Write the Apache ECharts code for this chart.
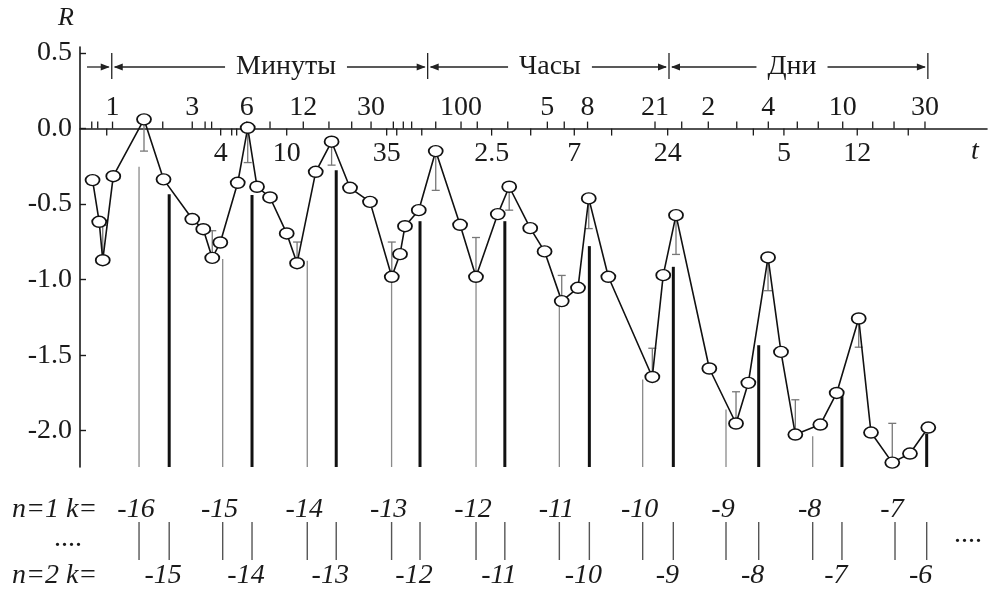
<!DOCTYPE html>
<html><head><meta charset="utf-8">
<script src="https://cdn.jsdelivr.net/npm/echarts@6/dist/echarts.min.js"></script>
<style>html,body{margin:0;padding:0;background:#fff}#c{width:991px;height:592px}</style>
</head><body><div id="c"></div>
<script>
// time t in minutes (log axis), R values
const times = [0.77,0.84,0.88,1.01,1.51,1.95,2.84,3.28,3.69,4.10,5.15,5.87,6.63,7.86,9.78,11.2,14.3,17.6,22.4,29.1,38.7,43.1,46.0,55.1,68.8,94.6,116.5,155,180,237,286,358,443,510,659,1172,1352,1598,2472,3506,4119,5331,6315,7621,10570,13100,17470,20520,27110,34180,43440];
const R = [-0.341,-0.617,-0.871,-0.315,0.061,-0.336,-0.599,-0.666,-0.856,-0.754,-0.359,0.005,-0.385,-0.456,-0.694,-0.891,-0.286,-0.087,-0.392,-0.485,-0.981,-0.831,-0.646,-0.540,-0.149,-0.637,-0.981,-0.566,-0.385,-0.659,-0.813,-1.142,-1.054,-0.462,-0.981,-1.644,-0.970,-0.573,-1.588,-1.952,-1.683,-0.853,-1.478,-2.025,-1.959,-1.750,-1.257,-2.012,-2.211,-2.151,-1.979];
// error bars: index into series, signed length (+ up, - down)
const errIndex = [2,4,8,11,15,17,20,24,26,28,31,33,35,37,39,41,43,46,48];
const errDelta = [0.23,-0.21,0.18,-0.23,0.14,-0.155,0.23,-0.26,0.26,-0.155,0.17,-0.2,0.19,-0.26,0.21,-0.22,0.23,-0.19,0.26];
// vertical marker lines (n=1 thin, n=2 thick)
const thinT = [1.415,4.23,12.8,38.6,116.6,347,1033,3075,9565,28100];
const thinTop = [-0.253,-0.864,-0.875,-0.981,-0.981,-1.142,-1.661,-1.860,-2.036,-2.22];
const thickT = [2.10,6.21,18.7,56.0,170,514,1543,4718,14030,42540];
const thickTop = [-0.434,-0.440,-0.275,-0.613,-0.613,-0.778,-0.915,-1.434,-1.754,-2.019];
const n1K = ['-16','-15','-14','-13','-12','-11','-10','-9','-8','-7'];
const n2K = ['-15','-14','-13','-12','-11','-10','-9','-8','-7','-6'];
// time axis ticks and labels (minutes)
const upTickT = [0.762,0.824,1.0,1.93,2.84,3.36,3.66,5.79,7.86,12.15,17.0,22.9,29.5,39.5,45,50.2,68.8,95.8,118.5,176.6,296.6,370,502,1214,1722,2439,3540,5350,7820,10290,14170,20990,27740,41600];
const downTickT = [0.927,4.12,4.76,5.08,9.78,36.2,41.3,57.3,143,238.5,422,688,1433,4398,6563,17140,33420];
const topLabelText = ['1','3','6','12','30','100','5','8','21','2','4','10','30'];
const topLabelT = [1.0,2.84,5.79,12.15,29.5,95.8,296.6,502,1214,2439,5350,14170,41600];
const botLabelText = ['4','10','35','2.5','7','24','5','12'];
const botLabelT = [4.12,9.78,36.2,143,422,1433,6563,17140];
// unit brackets
const bracketStart = [0.716,0.99,61.9,1458];
const bracketEnd = [0.99,61.9,1458,43200];
const bracketTextT = [0.99,9.69,307,7295];
const bracketText = ['','Минуты','Часы','Дни'];
const yTicks = [-2,-1.5,-1,-0.5,0,0.5];

const FONT = '28px "Liberation Serif", "DejaVu Serif", serif';
const IFONT = 'italic 28px "Liberation Serif", "DejaVu Serif", serif';
const INK = '#1a1a1a';

function txt(x, y, text, font, align, extra) {
  return Object.assign({type:'text', x:x, y:y, silent:true,
    style:Object.assign({text:text, font:font, fill:INK, align:align||'center', verticalAlign:'middle',
      textAlign:align||'center', textVerticalAlign:'middle'}, extra||{})});
}

const chart = echarts.init(document.getElementById('c'));
chart.setOption({
  animation:false,
  backgroundColor:'#fff',
  grid:{left:80,right:4,top:47,bottom:125},
  xAxis:{type:'log', logBase:10, min:0.6533, max:93690,
    axisLine:{onZero:true, lineStyle:{color:INK,width:1.6}},
    axisTick:{show:false}, axisLabel:{show:false}, splitLine:{show:false}},
  yAxis:{type:'value', min:-2.24, max:0.54,
    axisLine:{show:true, lineStyle:{color:INK,width:1.6}},
    axisTick:{show:true, inside:true, length:6, customValues:yTicks, lineStyle:{color:INK,width:1.4}},
    axisLabel:{customValues:yTicks, formatter:v=>Number(v).toFixed(1), margin:8,
      fontFamily:'"Liberation Serif", "DejaVu Serif", serif', fontSize:28, color:INK},
    splitLine:{show:false}},
  series:[
    { // thin vertical lines (n=1)
      type:'custom', z:1, clip:false,
      data: thinT.map((t,i)=>[t,thinTop[i]]),
      renderItem:(params,api)=>{
        const cs = params.coordSys;
        const p = api.coord([api.value(0), api.value(1)]);
        const bot = cs.y + cs.height;
        return {type:'group', children:[
          {type:'line', shape:{x1:p[0],y1:p[1],x2:p[0],y2:bot}, style:{stroke:'#8a8a8a',lineWidth:1.3}},
          {type:'line', shape:{x1:p[0],y1:bot+55,x2:p[0],y2:bot+93}, style:{stroke:'#555',lineWidth:1.4}},
          txt(p[0]-3, bot+43, n1K[params.dataIndex], IFONT)
        ]};
      }
    },
    { // thick vertical lines (n=2)
      type:'custom', z:1, clip:false,
      data: thickT.map((t,i)=>[t,thickTop[i]]),
      renderItem:(params,api)=>{
        const cs = params.coordSys;
        const p = api.coord([api.value(0), api.value(1)]);
        const bot = cs.y + cs.height;
        return {type:'group', children:[
          {type:'line', shape:{x1:p[0],y1:p[1],x2:p[0],y2:bot}, style:{stroke:'#111',lineWidth:3}},
          {type:'line', shape:{x1:p[0],y1:bot+55,x2:p[0],y2:bot+93}, style:{stroke:'#555',lineWidth:1.4}},
          txt(p[0]-6, bot+109, n2K[params.dataIndex], IFONT)
        ]};
      }
    },
    { // error bars
      type:'custom', z:3, clip:false,
      data: errIndex.map((k,i)=>[times[k], R[k], R[k]+errDelta[i]]),
      renderItem:(params,api)=>{
        const a = api.coord([api.value(0), api.value(1)]);
        const b = api.coord([api.value(0), api.value(2)]);
        return {type:'group', children:[
          {type:'line', shape:{x1:a[0],y1:a[1],x2:b[0],y2:b[1]}, style:{stroke:'#777',lineWidth:1.3}},
          {type:'line', shape:{x1:b[0]-4,y1:b[1],x2:b[0]+4,y2:b[1]}, style:{stroke:'#777',lineWidth:1.3}}
        ]};
      }
    },
    { // axis ticks up
      type:'custom', z:4, clip:false,
      data: upTickT.map(t=>[t,0]),
      renderItem:(params,api)=>{
        const p = api.coord([api.value(0), 0]);
        return {type:'line', shape:{x1:p[0],y1:p[1],x2:p[0],y2:p[1]-7}, style:{stroke:INK,lineWidth:1.3}};
      }
    },
    { // axis ticks down
      type:'custom', z:4, clip:false,
      data: downTickT.map(t=>[t,0]),
      renderItem:(params,api)=>{
        const p = api.coord([api.value(0), 0]);
        return {type:'line', shape:{x1:p[0],y1:p[1],x2:p[0],y2:p[1]+7}, style:{stroke:INK,lineWidth:1.3}};
      }
    },
    { // top tick labels
      type:'custom', z:4, clip:false,
      data: topLabelT.map(t=>[t,0]),
      renderItem:(params,api)=>{
        const p = api.coord([api.value(0), 0]);
        return txt(p[0], p[1]-21, topLabelText[params.dataIndex], FONT);
      }
    },
    { // bottom tick labels
      type:'custom', z:4, clip:false,
      data: botLabelT.map(t=>[t,0]),
      renderItem:(params,api)=>{
        const p = api.coord([api.value(0), 0]);
        return txt(p[0], p[1]+25, botLabelText[params.dataIndex], FONT);
      }
    },
    { // unit brackets
      type:'custom', z:4, clip:false,
      data: bracketStart.map((t,i)=>[t, bracketEnd[i], bracketTextT[i]]),
      renderItem:(params,api)=>{
        const cs = params.coordSys;
        const i = params.dataIndex;
        const x1 = api.coord([api.value(0), 0])[0];
        const x2 = api.coord([api.value(1), 0])[0];
        const xt = api.coord([api.value(2), 0])[0];
        const y = cs.y + 20;
        const L = bracketText[i];
        const ch = [];
        const s1 = L ? x1 + 3 : x1;
        ch.push({type:'line', shape:{x1:s1,y1:y,x2:x2-3,y2:y}, style:{stroke:'#222',lineWidth:1.3}});
        ch.push({type:'polygon', shape:{points:[[x2-2,y],[x2-11,y-3.5],[x2-11,y+3.5]]}, style:{fill:'#222'}});
        if (L) {
          ch.push({type:'polygon', shape:{points:[[x1+2,y],[x1+11,y-3.5],[x1+11,y+3.5]]}, style:{fill:'#222'}});
          ch.push(txt(xt, y, L, FONT, 'center', {backgroundColor:'#fff', padding:[0,11]}));
        }
        ch.push({type:'line', shape:{x1:x2,y1:y-14,x2:x2,y2:y+12}, style:{stroke:'#222',lineWidth:1.3}});
        return {type:'group', children:ch};
      }
    },
    { // main series
      type:'line', z:10,
      data: times.map((t,i)=>[t,R[i]]),
      symbol:'circle', symbolSize:[14,11],
      lineStyle:{color:'#111',width:1.6},
      itemStyle:{color:'#fff',borderColor:'#111',borderWidth:1.6},
      emphasis:{disabled:true}
    }
  ],
  graphic:[
    txt(66, 18, 'R', 'italic 26px "Liberation Serif", serif'),
    txt(975, 152, 't', 'italic 28px "Liberation Serif", serif'),
    txt(12, 510, 'n=1 k=', IFONT, 'left'),
    txt(68, 539, '....', FONT),
    txt(12, 576, 'n=2 k=', IFONT, 'left'),
    txt(968, 535, '....', FONT)
  ]
});
</script></body></html>
